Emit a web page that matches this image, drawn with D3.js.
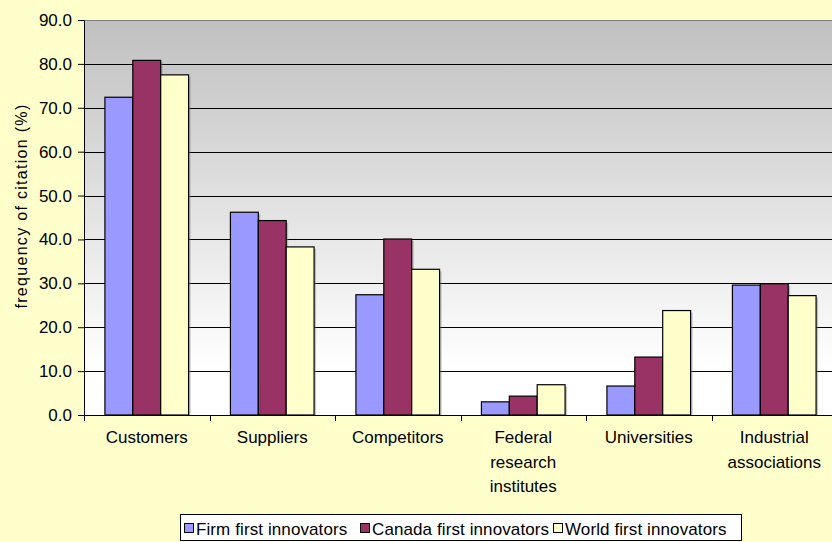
<!DOCTYPE html>
<html>
<head>
<meta charset="utf-8">
<script src="https://cdn.jsdelivr.net/npm/d3@7"></script>
<style>
html, body { margin: 0; padding: 0; background: #FFFFCC; }
svg { display: block; font-family: "Liberation Sans", Arial, sans-serif; }
</style>
</head>
<body>
<svg id="chart" width="832" height="542"></svg>
<script>
const categories = ["Customers", "Suppliers", "Competitors", "Federal research institutes", "Universities", "Industrial associations"];
const categoryLines = [["Customers"], ["Suppliers"], ["Competitors"], ["Federal", "research", "institutes"], ["Universities"], ["Industrial", "associations"]];
const seriesNames = ["Firm first innovators", "Canada first innovators", "World first innovators"];
const firmFirst = [72.4, 46.2, 27.4, 3.0, 6.6, 29.6];
const canadaFirst = [80.8, 44.3, 40.1, 4.3, 13.2, 29.9];
const worldFirst = [77.5, 38.3, 33.2, 6.9, 23.8, 27.2];
const seriesValues = [firmFirst, canadaFirst, worldFirst];
const seriesColors = ["#9999FF", "#993366", "#FFFFCC"];
const yTicks = [0, 10, 20, 30, 40, 50, 60, 70, 80, 90];
const yTitle = "frequency of citation (%)";

const svg = d3.select("#chart");
const plot = { left: 84, right: 837, top: 20, bottom: 415 };

const x0 = d3.scaleBand().domain(categories).range([plot.left, plot.right]).paddingInner(0).paddingOuter(0);
const x1 = d3.scaleBand().domain(seriesNames).range([0, x0.bandwidth()]).paddingInner(0).paddingOuter(0.75);
const y = d3.scaleLinear().domain([0, 90]).range([plot.bottom, plot.top]);

// gradient
const defs = svg.append("defs");
const grad = defs.append("linearGradient").attr("id", "bg").attr("x1", 0).attr("y1", 0).attr("x2", 0).attr("y2", 1);
grad.append("stop").attr("offset", "0%").attr("stop-color", "#C0C0C0");
grad.append("stop").attr("offset", "88%").attr("stop-color", "#FFFFFF");
grad.append("stop").attr("offset", "100%").attr("stop-color", "#FFFFFF");

svg.append("rect")
  .attr("x", plot.left).attr("y", plot.top)
  .attr("width", plot.right - plot.left).attr("height", plot.bottom - plot.top)
  .attr("fill", "url(#bg)");

// top border
svg.append("line")
  .attr("x1", plot.left).attr("x2", plot.right)
  .attr("y1", plot.top + 0.5).attr("y2", plot.top + 0.5)
  .attr("stroke", "#808080").attr("stroke-width", 1);

// gridlines
svg.append("g").selectAll("line")
  .data(yTicks.filter(t => t > 0 && t < 90))
  .join("line")
  .attr("x1", plot.left).attr("x2", plot.right)
  .attr("y1", d => Math.round(y(d)) + 0.5).attr("y2", d => Math.round(y(d)) + 0.5)
  .attr("stroke", "#000").attr("stroke-width", 1);

// bars
const groups = svg.append("g").selectAll("g")
  .data(categories)
  .join("g")
  .attr("transform", d => `translate(${x0(d)},0)`);

const barData = (c, i) => seriesNames.map((s, k) => ({ s, k, v: seriesValues[k][i] }));

// shadows
groups.selectAll("rect.shadow")
  .data((c, i) => barData(c, i))
  .join("rect")
  .attr("class", "shadow")
  .attr("x", d => x1(d.s) + 2)
  .attr("y", d => y(d.v) + 2)
  .attr("width", x1.bandwidth())
  .attr("height", d => plot.bottom - y(d.v) - 2)
  .attr("fill", "#808080").attr("opacity", 0.45);

groups.selectAll("rect.bar")
  .data((c, i) => barData(c, i))
  .join("rect")
  .attr("class", "bar")
  .attr("x", d => x1(d.s))
  .attr("y", d => y(d.v))
  .attr("width", x1.bandwidth())
  .attr("height", d => plot.bottom - y(d.v))
  .attr("fill", d => seriesColors[d.k])
  .attr("stroke", "#000").attr("stroke-width", 1.2);

// y axis
const yAxis = d3.axisLeft(y).tickValues(yTicks).tickFormat(d3.format(".1f")).tickSize(6).tickPadding(6);
const ya = svg.append("g").attr("transform", `translate(${plot.left},0)`).call(yAxis);
ya.select(".domain").attr("stroke", "#000");
ya.selectAll(".tick line").attr("stroke", "#000");
ya.selectAll("text").attr("font-size", "17px").attr("fill", "#000")
  .attr("font-family", "'Liberation Sans', Arial, sans-serif");

// x axis
const xa = svg.append("g").attr("transform", `translate(0,${plot.bottom})`);
xa.append("line").attr("x1", plot.left).attr("x2", plot.right).attr("y1", 0.5).attr("y2", 0.5).attr("stroke", "#000");
xa.selectAll("line.tick")
  .data(categories)
  .join("line")
  .attr("class", "tick")
  .attr("x1", d => Math.round(x0(d)) + 0.5).attr("x2", d => Math.round(x0(d)) + 0.5)
  .attr("y1", 0).attr("y2", 6)
  .attr("stroke", "#000");

xa.selectAll("text.cat")
  .data(categories)
  .join("text")
  .attr("class", "cat")
  .attr("text-anchor", "middle")
  .attr("font-size", "17px")
  .attr("fill", "#000")
  .each(function (d, i) {
    const t = d3.select(this);
    categoryLines[i].forEach((ln, j) => {
      t.append("tspan")
        .attr("x", x0(d) + x0.bandwidth() / 2)
        .attr("y", 28 + j * 24.5)
        .text(ln);
    });
  });

// y title
svg.append("text")
  .attr("transform", `translate(21,${206}) rotate(-90)`)
  .attr("text-anchor", "middle")
  .attr("dominant-baseline", "central")
  .attr("font-size", "16px")
  .style("letter-spacing", "1.3px")
  .attr("fill", "#000")
  .text(yTitle);

// legend
const legend = svg.append("g");
legend.append("rect")
  .attr("x", 180.5).attr("y", 514.5).attr("width", 561).attr("height", 26)
  .attr("fill", "#FFFFFF").attr("stroke", "#000").attr("stroke-width", 1);
const legendX = [184, 360, 553];
const items = legend.selectAll("g.item")
  .data(seriesNames)
  .join("g").attr("class", "item")
  .attr("transform", (d, i) => `translate(${legendX[i]},521)`);
items.append("rect")
  .attr("x", 0.5).attr("y", 2.5).attr("width", 9).attr("height", 9)
  .attr("fill", (d, i) => seriesColors[i]).attr("stroke", "#000");
items.append("text")
  .attr("x", 12).attr("y", 13.5)
  .attr("font-size", "17px")
  .style("letter-spacing", "0.1px")
  .attr("fill", "#000")
  .text(d => d);
</script>
</body>
</html>
